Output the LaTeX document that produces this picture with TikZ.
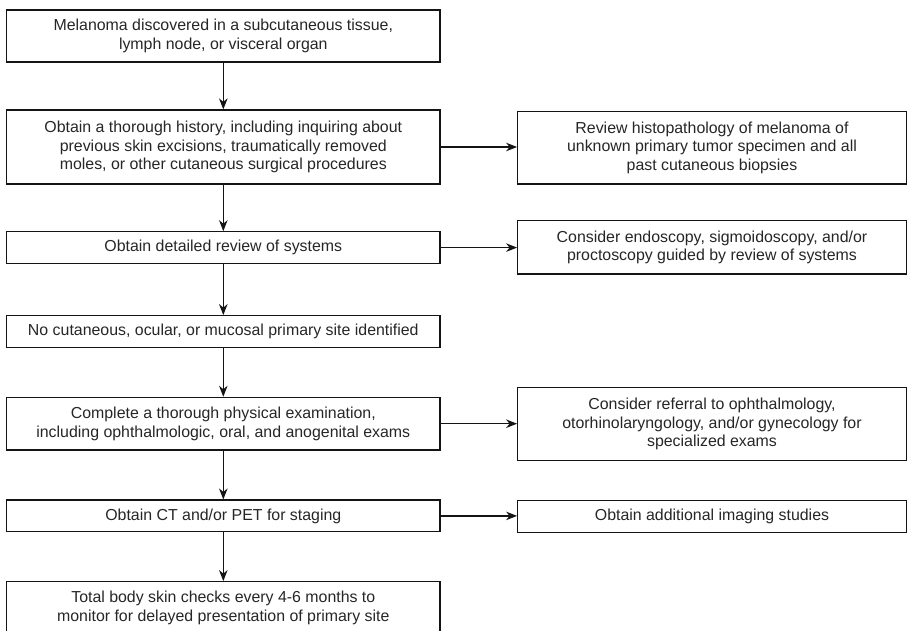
\documentclass[tikz,border=0pt]{standalone}
\usepackage{fontspec}
\setmainfont{Liberation Sans}
\usetikzlibrary{arrows.meta}
\definecolor{txt}{HTML}{262626}
\definecolor{ln}{HTML}{141414}
\tikzset{
  box/.style={draw=ln, line width=1.2pt, rectangle, inner sep=0pt, align=center,
    text=txt, font=\fontsize{15.9}{18.6}\selectfont},
  lbox/.style={box, minimum width=433.3pt},
  rbox/.style={box, minimum width=388.6pt},
  conn/.style={draw=ln, line width=1.2pt, -{Stealth[length=11pt,width=8.5pt,inset=3.5pt]}}
}
\begin{document}
\begin{tikzpicture}[x=1pt,y=-1pt]
\useasboundingbox (0,0) rectangle (907,630);
\node[lbox, minimum height=52pt] (b1) at (223.3,36) {Melanoma discovered in a subcutaneous tissue,\\lymph node, or visceral organ};
\node[lbox, minimum height=74pt] (b2) at (223.3,147) {Obtain a thorough history, including inquiring about\\previous skin excisions, traumatically removed\\moles, or other cutaneous surgical procedures};
\node[lbox, minimum height=31.6pt] (b3) at (223.3,247.6) {Obtain detailed review of systems};
\node[lbox, minimum height=31.6pt] (b4) at (223.3,331.5) {No cutaneous, ocular, or mucosal primary site identified};
\node[lbox, minimum height=52.7pt] (b5) at (223.3,423.7) {Complete a thorough physical examination,\\including ophthalmologic, oral, and anogenital exams};
\node[lbox, minimum height=31.7pt] (b6) at (223.3,515.9) {Obtain CT and/or PET for staging};
\node[lbox, minimum height=52pt] (b7) at (223.3,607.7) {Total body skin checks every 4-6 months to\\monitor for delayed presentation of primary site};

\node[rbox, minimum height=72.3pt] (r1) at (712,147.8) {Review histopathology of melanoma of\\unknown primary tumor specimen and all\\past cutaneous biopsies};
\node[rbox, minimum height=53.3pt] (r2) at (712,247.4) {Consider endoscopy, sigmoidoscopy, and/or\\proctoscopy guided by review of systems};
\node[rbox, minimum height=73.4pt] (r3) at (712,424) {Consider referral to ophthalmology,\\otorhinolaryngology, and/or gynecology for\\specialized exams};
\node[rbox, minimum height=31.6pt] (r4) at (712,516.3) {Obtain additional imaging studies};

\draw[conn] (b1) -- (b2);
\draw[conn] (b2) -- (b3);
\draw[conn] (b3) -- (b4);
\draw[conn] (b4) -- (b5);
\draw[conn] (b5) -- (b6);
\draw[conn] (b6) -- (b7);
\draw[conn] (b2.east) -- (b2.east -| r1.west);
\draw[conn] (b3.east) -- (b3.east -| r2.west);
\draw[conn] (b5.east) -- (b5.east -| r3.west);
\draw[conn] (b6.east) -- (b6.east -| r4.west);
\end{tikzpicture}
\end{document}
